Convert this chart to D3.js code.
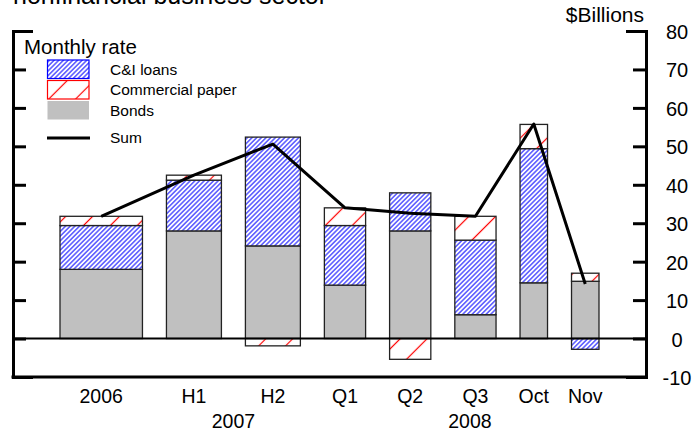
<!DOCTYPE html>
<html>
<head>
<meta charset="utf-8">
<script src="https://cdn.jsdelivr.net/npm/d3@7"></script>
<style>
  body { margin: 0; background: #fff; }
  text { font-family: "Liberation Sans", Arial, sans-serif; fill: #000; }
</style>
</head>
<body>
<script>
// data ($ billions, monthly rate)
var categories = ["2006", "H1", "H2", "Q1", "Q2", "Q3", "Oct", "Nov"];
var periodType = ["year", "half", "half", "quarter", "quarter", "quarter", "month", "month"];
var bonds     = [18.0, 28.0, 24.1, 13.9, 28.0, 6.2, 14.5, 14.9];
var ciLoans   = [11.4, 13.2, 28.3, 15.5, 9.9, 19.4, 34.9, -2.8];
var commPaper = [2.4, 1.3, -1.9, 4.6, -5.4, 6.2, 6.3, 2.1];
var sumTotal  = [31.8, 42.5, 50.6, 34.0, 32.6, 31.8, 55.8, 14.2];
var yearGroups = [
  { label: "2007", members: ["H1", "H2"] },
  { label: "2008", members: ["Q1", "Q2", "Q3", "Oct", "Nov"] }
];
var yTicks = [-10, 0, 10, 20, 30, 40, 50, 60, 70, 80];

var width = 697, height = 432;
var pLeft = 13, pRight = 646, pTop = 31, pBottom = 377;

var svg = d3.select("body").append("svg")
    .attr("width", width)
    .attr("height", height);

// hatch patterns
var defs = svg.append("defs");
function hatch(id, step, col, lw) {
  var p = defs.append("pattern")
      .attr("id", id)
      .attr("patternUnits", "userSpaceOnUse")
      .attr("width", step)
      .attr("height", step)
      .attr("patternTransform", "rotate(45)");
  p.append("rect").attr("width", step).attr("height", step).attr("fill", "#fff");
  p.append("line")
      .attr("x1", step / 2).attr("y1", 0)
      .attr("x2", step / 2).attr("y2", step)
      .attr("stroke", col)
      .attr("stroke-width", lw);
}
hatch("ci", 3.3, "#0000ff", 1.0);
hatch("cp", 19, "#ff0000", 1.2);

// x layout: bar width follows the period length, fixed gaps between bars
var weight = { year: 3, half: 2, quarter: 1.5, month: 1 };
var pad = 1.71, gap = 0.873;
var starts = [], pos = pad;
categories.forEach(function(c, i) {
  starts.push(pos);
  pos += weight[periodType[i]] + gap;
});
var total = pos - gap + pad;

var x = d3.scaleLinear().domain([0, total]).range([pLeft, pRight]);
var y = d3.scaleLinear().domain([-10, 80]).range([pBottom, pTop]);

function x0(i) { return x(starts[i]); }
function x1(i) { return x(starts[i] + weight[periodType[i]]); }
function xc(i) { return (x0(i) + x1(i)) / 2; }

// stacked bars
var rows = categories.map(function(c, i) {
  return { cat: c, i: i, bonds: bonds[i], ci: ciLoans[i], cp: commPaper[i] };
});
var stack = d3.stack()
    .keys(["bonds", "ci", "cp"])
    .offset(d3.stackOffsetDiverging);
var series = stack(rows);
var fills = { bonds: "#c0c0c0", ci: "url(#ci)", cp: "url(#cp)" };

svg.append("g").selectAll("g")
  .data(series)
  .join("g")
    .attr("fill", function(s) { return fills[s.key]; })
  .selectAll("rect")
  .data(function(s) { return s; })
  .join("rect")
    .attr("x", function(d) { return x0(d.data.i); })
    .attr("width", function(d) { return x1(d.data.i) - x0(d.data.i); })
    .attr("y", function(d) { return y(Math.max(d[0], d[1])); })
    .attr("height", function(d) { return Math.abs(y(d[0]) - y(d[1])); })
    .attr("stroke", "#222")
    .attr("stroke-width", 1.3);

// zero line
svg.append("line")
    .attr("x1", pLeft).attr("x2", pRight)
    .attr("y1", y(0)).attr("y2", y(0))
    .attr("stroke", "#000")
    .attr("stroke-width", 2);

// sum line
svg.append("path")
    .datum(sumTotal)
    .attr("fill", "none")
    .attr("stroke", "#000")
    .attr("stroke-width", 3)
    .attr("stroke-linejoin", "round")
    .attr("d", d3.line()
        .x(function(d, i) { return xc(i); })
        .y(function(d) { return y(d); }));

// frame and ticks
svg.append("g")
    .attr("transform", "translate(" + pLeft + ",0)")
    .call(d3.axisRight(y).tickValues(yTicks).tickSize(13).tickSizeOuter(20).tickFormat(""));
svg.append("g")
    .attr("transform", "translate(" + pRight + ",0)")
    .call(d3.axisLeft(y).tickValues(yTicks).tickSize(13).tickSizeOuter(20).tickFormat(""));
svg.selectAll(".domain, .tick line")
    .attr("stroke", "#000")
    .attr("stroke-width", 3);

svg.append("line")
    .attr("x1", pLeft - 1.5).attr("x2", pRight + 1.5)
    .attr("y1", pBottom).attr("y2", pBottom)
    .attr("stroke", "#000")
    .attr("stroke-width", 3);

// right tick labels
svg.append("g").selectAll("text")
  .data(yTicks)
  .join("text")
    .attr("x", 677)
    .attr("y", function(d) { return y(d) + 1; })
    .attr("dy", "0.35em")
    .attr("text-anchor", "middle")
    .style("font-size", "20px")
    .text(function(d) { return d; });

svg.append("text")
    .attr("x", 644).attr("y", 22)
    .attr("text-anchor", "end")
    .style("font-size", "21px")
    .text("$Billions");

// x labels
svg.append("g").selectAll("text")
  .data(categories)
  .join("text")
    .attr("x", function(d, i) { return xc(i); })
    .attr("y", 403)
    .attr("text-anchor", "middle")
    .style("font-size", "19.5px")
    .text(function(d) { return d; });

svg.append("g").selectAll("text")
  .data(yearGroups)
  .join("text")
    .attr("x", function(g) {
      return d3.mean(g.members, function(m) { return xc(categories.indexOf(m)); });
    })
    .attr("y", 428)
    .attr("text-anchor", "middle")
    .style("font-size", "19.5px")
    .text(function(g) { return g.label; });

// title (cut off at the top of the frame, as in the source)
svg.append("text")
    .attr("x", 13).attr("y", 4)
    .style("font-size", "25px")
    .text("nonfinancial business sector");

// legend
svg.append("text")
    .attr("x", 24).attr("y", 54)
    .style("font-size", "20.5px")
    .text("Monthly rate");

var legendItems = [
  { label: "C&I loans", fill: "url(#ci)", stroke: "#0000ff", y: 60 },
  { label: "Commercial paper", fill: "url(#cp)", stroke: "#ff0000", y: 80.5 },
  { label: "Bonds", fill: "#c0c0c0", stroke: "none", y: 101 }
];
var lg = svg.append("g");
lg.selectAll("rect")
  .data(legendItems)
  .join("rect")
    .attr("x", 47.5).attr("y", function(d) { return d.y; })
    .attr("width", 41.5).attr("height", 18.5)
    .attr("fill", function(d) { return d.fill; })
    .attr("stroke", function(d) { return d.stroke; })
    .attr("stroke-width", 1.2);
lg.selectAll("text")
  .data(legendItems)
  .join("text")
    .attr("x", 110).attr("y", function(d) { return d.y + 14.5; })
    .style("font-size", "15.5px")
    .text(function(d) { return d.label; });

lg.append("line")
    .attr("x1", 47).attr("x2", 90)
    .attr("y1", 138).attr("y2", 138)
    .attr("stroke", "#000")
    .attr("stroke-width", 3);
lg.append("text")
    .attr("x", 110).attr("y", 143)
    .style("font-size", "15.5px")
    .text("Sum");
</script>
</body>
</html>
